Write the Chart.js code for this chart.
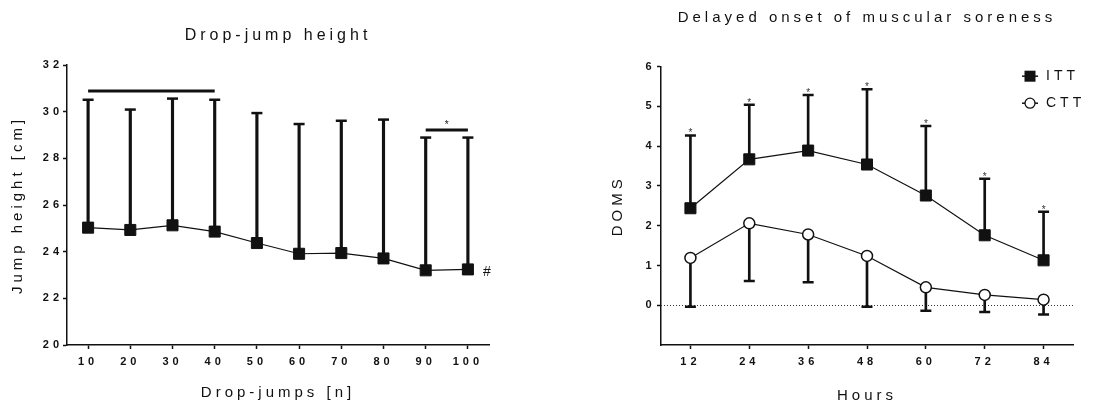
<!DOCTYPE html>
<html><head><meta charset="utf-8">
<script src="https://cdn.jsdelivr.net/npm/chart.js@4"></script>
<style>
html,body{margin:0;padding:0;background:#fff;}
#wrap{position:relative;width:1110px;height:406px;overflow:hidden;background:#fff;}
#c1{position:absolute;left:0;top:0;}
#c2{position:absolute;left:560px;top:0;}
</style></head><body>
<div id="wrap"><canvas id="c1" width="540" height="406"></canvas><canvas id="c2" width="550" height="406"></canvas></div>
<script>
// ---------- Drop-jump height ----------
const jumpLabels = ['10','20','30','40','50','60','70','80','90','100'];
const jumpMean   = [25.03, 24.93, 25.13, 24.86, 24.37, 23.91, 23.94, 23.71, 23.20, 23.24];
const jumpUpper  = [30.51, 30.09, 30.56, 30.51, 29.94, 29.47, 29.61, 29.66, 28.89, 28.89];
const sigSpanA = ['10','40'];
const sigLevelA = 30.89;
const sigSpanB = ['90','100'];
const sigLevelB = 29.21;

// ---------- Delayed onset of muscular soreness ----------
const hourLabels = ['12','24','36','48','60','72','84'];
const ittMean  = [2.44, 3.67, 3.89, 3.54, 2.76, 1.76, 1.13];
const ittUpper = [4.27, 5.04, 5.29, 5.43, 4.51, 3.18, 2.35];
const cttMean  = [1.19, 2.06, 1.78, 1.24, 0.45, 0.26, 0.14];
const cttLower = [-0.04, 0.61, 0.58, -0.04, -0.14, -0.17, -0.23];

const FONT = "'Liberation Sans', Arial, Helvetica, sans-serif";
const INK = '#111111';
const SPACING = '4px';

const spacingPlugin = {
  id: 'letterSpacing',
  beforeInit(c){ c.ctx.letterSpacing = SPACING; },
  beforeUpdate(c){ c.ctx.letterSpacing = SPACING; },
  beforeLayout(c){ c.ctx.letterSpacing = SPACING; },
  beforeDraw(c){ c.ctx.letterSpacing = SPACING; }
};
Chart.register(spacingPlugin);

const tickFont = {family: FONT, size: 11, weight: 'bold'};
const titleFont = {family: FONT, size: 15, weight: 'normal'};

function xAxis(titleText, titleBottom){
  return {
    type: 'category', offset: true,
    grid: {offset: false, drawOnChartArea: false, drawTicks: true, tickLength: 4, tickWidth: 1.5, tickColor: INK},
    border: {color: INK, width: 1.5},
    ticks: {color: INK, font: tickFont, padding: 6, maxRotation: 0, autoSkip: false},
    title: {display: true, text: titleText, color: INK, font: titleFont, padding: {top: 0, bottom: titleBottom}},
    afterFit(s){ s.height = 61; }
  };
}

// ---------- left chart ----------
const jumpNotes = {
  id: 'jumpNotes',
  afterDatasetsDraw(chart){
    const {ctx, scales: {x, y}} = chart;
    ctx.save();
    ctx.letterSpacing = '0px';
    ctx.fillStyle = INK;
    const xs = (x.getPixelForValue(jumpLabels.indexOf(sigSpanB[0])) + x.getPixelForValue(jumpLabels.indexOf(sigSpanB[1]))) / 2;
    ctx.font = '10px ' + FONT;
    ctx.textAlign = 'center';
    ctx.textBaseline = 'alphabetic';
    ctx.fillText('*', xs, y.getPixelForValue(sigLevelB) - 2);
    const last = jumpLabels.length - 1;
    ctx.font = '14px ' + FONT;
    ctx.textBaseline = 'middle';
    ctx.fillText('#', x.getPixelForValue(last) + 19, y.getPixelForValue(jumpMean[last]) + 3);
    ctx.restore();
  }
};

new Chart(document.getElementById('c1'), {
  type: 'bar',
  data: {
    labels: jumpLabels,
    datasets: [
      {type: 'bar', label: 'SD', data: jumpLabels.map((_, i) => [jumpMean[i], jumpUpper[i]]),
       backgroundColor: INK, barThickness: 2.5, grouped: false, order: 4},
      {type: 'line', label: 'SD cap', data: jumpUpper, showLine: false, pointStyle: 'line',
       pointRadius: 5.5, pointBorderWidth: 2.5, borderColor: INK, pointBorderColor: INK, order: 3},
      {type: 'line', label: 'sigA', data: sigSpanA.map(v => ({x: v, y: sigLevelA})),
       borderColor: INK, borderWidth: 3, pointRadius: 0, order: 2},
      {type: 'line', label: 'sigB', data: sigSpanB.map(v => ({x: v, y: sigLevelB})),
       borderColor: INK, borderWidth: 3, pointRadius: 0, order: 2},
      {type: 'line', label: 'Drop-jump height', data: jumpMean, borderColor: INK, borderWidth: 1.2,
       pointStyle: 'rect', pointRadius: 7.8, pointBackgroundColor: INK, pointBorderColor: INK, pointBorderWidth: 1, order: 0}
    ]
  },
  options: {
    responsive: false, animation: false,
    layout: {padding: {left: 0, right: 51, top: 0, bottom: 0}},
    plugins: {
      legend: {display: false}, tooltip: {enabled: false},
      title: {display: true, fullSize: false, text: 'Drop-jump height', color: INK,
              font: {family: FONT, size: 16, weight: 'normal'}, padding: {top: 26, bottom: 19.8}}
    },
    scales: {
      x: xAxis('Drop-jumps [n]', 4),
      y: {
        min: 20, max: 32,
        ticks: {stepSize: 2, color: INK, font: tickFont, padding: 0},
        grid: {drawOnChartArea: false, tickLength: 4, tickWidth: 1.5, tickColor: INK},
        border: {color: INK, width: 1.5},
        title: {display: true, text: 'Jump height [cm]', color: INK, font: titleFont, padding: {top: 9, bottom: 0}},
        afterFit(s){ s.width = 67; }
      }
    }
  },
  plugins: [jumpNotes]
});

// ---------- right chart ----------
const domsNotes = {
  id: 'domsNotes',
  beforeDatasetsDraw(chart){
    const {ctx, chartArea, scales: {y}} = chart;
    const y0 = y.getPixelForValue(0);
    ctx.save();
    ctx.strokeStyle = '#333';
    ctx.lineWidth = 1;
    ctx.setLineDash([1, 2]);
    ctx.beginPath();
    ctx.moveTo(chartArea.left, Math.round(y0) + 0.5);
    ctx.lineTo(chartArea.right, Math.round(y0) + 0.5);
    ctx.stroke();
    ctx.restore();
  },
  afterDatasetsDraw(chart){
    const {ctx, scales: {x, y}} = chart;
    ctx.save();
    ctx.letterSpacing = '0px';
    ctx.fillStyle = '#333';
    ctx.font = '10px ' + FONT;
    ctx.textAlign = 'center';
    ctx.textBaseline = 'alphabetic';
    ittUpper.forEach((v, i) => ctx.fillText('*', x.getPixelForValue(i), y.getPixelForValue(v) + 1));
    ctx.restore();
  },
  afterDraw(chart){
    const {ctx, chartArea} = chart;
    const items = chart.data.datasets.filter(d => d.inLegend);
    const mx = chartArea.right - 43;
    items.forEach((d, i) => {
      const cy = chartArea.top + 9.5 + i * 27;
      ctx.save();
      ctx.strokeStyle = INK;
      ctx.lineWidth = 1.5;
      ctx.beginPath(); ctx.moveTo(mx - 8, cy); ctx.lineTo(mx + 8, cy); ctx.stroke();
      ctx.fillStyle = d.pointBackgroundColor;
      ctx.lineWidth = 1.3;
      if (d.pointStyle === 'rect') {
        ctx.fillRect(mx - 5.5, cy - 5.5, 11, 11);
      } else {
        ctx.beginPath(); ctx.arc(mx, cy, 5, 0, Math.PI * 2); ctx.fill(); ctx.stroke();
      }
      ctx.fillStyle = INK;
      ctx.font = '14px ' + FONT;
      ctx.textAlign = 'left';
      ctx.textBaseline = 'middle';
      ctx.fillText(d.label, mx + 16, cy);
      ctx.restore();
    });
  }
};

new Chart(document.getElementById('c2'), {
  type: 'bar',
  data: {
    labels: hourLabels,
    datasets: [
      {type: 'bar', label: 'ITT SD', data: hourLabels.map((_, i) => [ittMean[i], ittUpper[i]]),
       backgroundColor: INK, barThickness: 2, grouped: false, order: 5},
      {type: 'bar', label: 'CTT SD', data: hourLabels.map((_, i) => [cttLower[i], cttMean[i]]),
       backgroundColor: INK, barThickness: 2, grouped: false, order: 5},
      {type: 'line', label: 'ITT cap', data: ittUpper, showLine: false, pointStyle: 'line',
       pointRadius: 5.5, pointBorderWidth: 2.5, borderColor: INK, pointBorderColor: INK, order: 4},
      {type: 'line', label: 'CTT cap', data: cttLower, showLine: false, pointStyle: 'line',
       pointRadius: 5.5, pointBorderWidth: 2.5, borderColor: INK, pointBorderColor: INK, order: 4},
      {type: 'line', label: 'ITT', inLegend: true, data: ittMean, borderColor: INK, borderWidth: 1.2,
       pointStyle: 'rect', pointRadius: 7.8, pointBackgroundColor: INK, pointBorderColor: INK, pointBorderWidth: 1, order: 1},
      {type: 'line', label: 'CTT', inLegend: true, data: cttMean, borderColor: INK, borderWidth: 1.2,
       pointStyle: 'circle', pointRadius: 5.5, pointBackgroundColor: '#ffffff', pointBorderColor: INK, pointBorderWidth: 1.5, order: 0}
    ]
  },
  options: {
    responsive: false, animation: false,
    layout: {padding: {left: 0, right: 37, top: 0, bottom: 0}},
    plugins: {
      legend: {display: false}, tooltip: {enabled: false},
      title: {display: true, fullSize: false, text: 'Delayed onset of muscular soreness', color: INK, font: titleFont, padding: {top: 9, bottom: 39.7}}
    },
    scales: {
      x: xAxis('Hours', 1),
      y: {
        min: -1, max: 6,
        ticks: {stepSize: 1, color: INK, font: tickFont, padding: 1.5, callback: v => (v < 0 ? '' : v)},
        grid: {drawOnChartArea: false, tickLength: 4, tickWidth: 1.5,
               tickColor: c => (c.tick && c.tick.value < 0 ? 'rgba(0,0,0,0)' : INK)},
        border: {color: INK, width: 1.5},
        title: {display: true, text: 'DOMS', color: INK, font: titleFont, padding: {top: 49, bottom: 0}},
        afterFit(s){ s.width = 101; }
      }
    }
  },
  plugins: [domsNotes]
});
</script>
</body></html>
